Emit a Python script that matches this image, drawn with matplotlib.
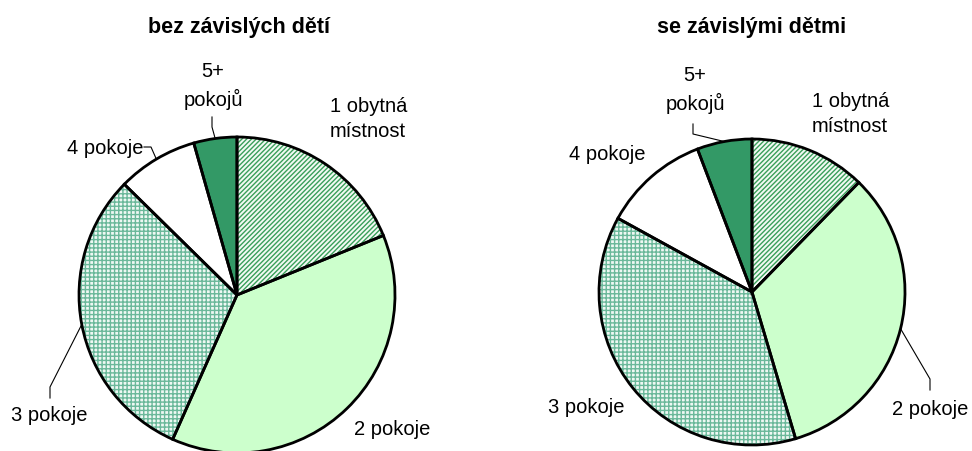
import numpy as np
import matplotlib
matplotlib.use("Agg")
import matplotlib.pyplot as plt

plt.rcParams['font.family'] = ['Liberation Sans', 'DejaVu Sans']
plt.rcParams['hatch.linewidth'] = 1.0

categories = ["1 obytná\nmístnost", "2 pokoje", "3 pokoje", "4 pokoje", "5+\npokojů"]
titles = ["bez závislých dětí", "se závislými dětmi"]
values_bez = [18.8, 37.7, 30.6, 8.2, 4.4]
values_se = [12.3, 33.1, 37.6, 11.2, 5.8]

W, H = 972, 452
fig = plt.figure(figsize=(W / 100, H / 100), dpi=100)
ax = fig.add_axes([0, 0, 1, 1])

faces = ['#f2faf4', '#ccffcc', '#eef8f3', 'white', '#339966']
hatches = ['/' * 7, None, '+' * 4, None, None]
hcolors = ['#3a9f5a', None, '#6ab89a', None, None]

def draw_pie(vals, cx, cy, r):
    wedges, _ = ax.pie(vals, center=(cx, cy), radius=r, startangle=90,
                       counterclock=False, colors=faces,
                       wedgeprops=dict(linewidth=0, edgecolor='none'), frame=True)
    for w, h, hc in zip(wedges, hatches, hcolors):
        if h:
            w.set_hatch(h)
            w.set_edgecolor(hc)
            w.set_linewidth(0)
    outl, _ = ax.pie(vals, center=(cx, cy), radius=r, startangle=90,
                     counterclock=False,
                     wedgeprops=dict(linewidth=2.0, edgecolor='black', fill=False), frame=True)
    return outl

def rim(w, cx, cy, r):
    th = np.deg2rad((w.theta1 + w.theta2) / 2)
    return cx + r * np.cos(th), cy + r * np.sin(th)

def leader(p_end, p_mid, p_start):
    xs = [p_start[0], p_mid[0], p_end[0]]
    ys = [p_start[1], p_mid[1], p_end[1]]
    ax.plot(xs, ys, color='black', lw=0.8)

fs = 14.5
tfs = 15.5
ls = 1.45
# Left pie
cxL, cyL, rL = 237, H - 296, 158
wl = draw_pie(values_bez, cxL, cyL, rL)
ax.text(cxL + 2, H - 28, titles[0], ha='center', va='center', fontsize=tfs, fontweight='bold')
ax.text(213, H - 86, categories[4], ha='center', va='center', fontsize=fs, linespacing=ls)
leader(rim(wl[4], cxL, cyL, rL), (212, H - 128), (212, H - 118))
ax.text(330, H - 119, categories[0], ha='left', va='center', fontsize=fs, linespacing=ls)
ax.text(143, H - 148, categories[3], ha='right', va='center', fontsize=fs)
leader(rim(wl[3], cxL, cyL, rL), (151, H - 148), (144, H - 148))
ax.text(49, H - 416, categories[2], ha='center', va='center', fontsize=fs)
leader(rim(wl[2], cxL, cyL, rL), (50, H - 388), (50, H - 399))
ax.text(392, H - 430, categories[1], ha='center', va='center', fontsize=fs)

# Right pie
cxR, cyR, rR = 752, H - 293, 153
wr = draw_pie(values_se, cxR, cyR, rR)
ax.text(cxR, H - 28, titles[1], ha='center', va='center', fontsize=tfs, fontweight='bold')
ax.text(695, H - 90, categories[4], ha='center', va='center', fontsize=fs, linespacing=ls)
leader(rim(wr[4], cxR, cyR, rR), (693, H - 135), (693, H - 125))
ax.text(812, H - 114, categories[0], ha='left', va='center', fontsize=fs, linespacing=ls)
ax.text(607, H - 155, categories[3], ha='center', va='center', fontsize=fs)
ax.text(586, H - 408, categories[2], ha='center', va='center', fontsize=fs)
ax.text(930, H - 410, categories[1], ha='center', va='center', fontsize=fs)
leader(rim(wr[1], cxR, cyR, rR), (930, H - 380), (930, H - 391))

ax.set_xlim(0, W)
ax.set_ylim(0, H)
ax.set_aspect('equal')
ax.axis('off')
fig.savefig('out.png', dpi=100)
